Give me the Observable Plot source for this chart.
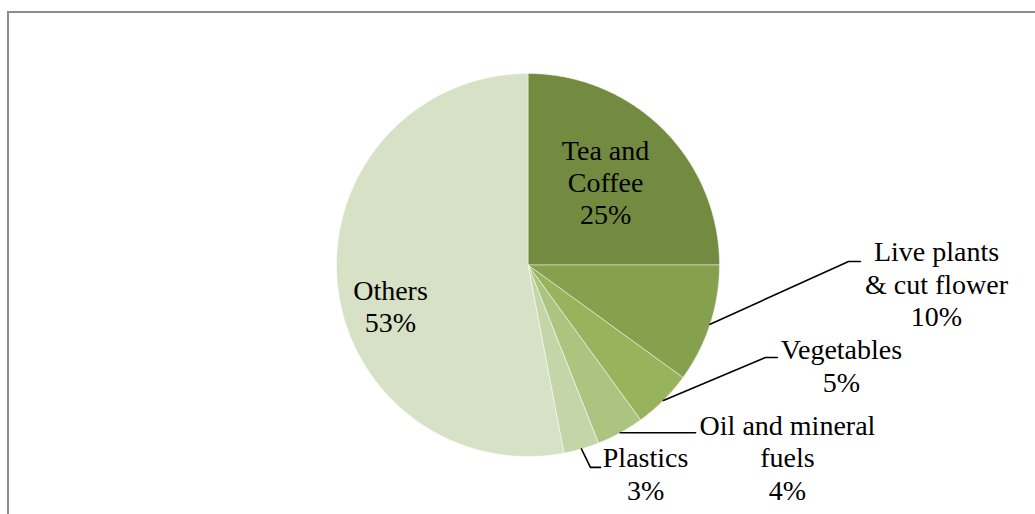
<!DOCTYPE html>
<html><head><meta charset="utf-8">
<script src="https://cdn.jsdelivr.net/npm/d3@7"></script>
<script src="https://cdn.jsdelivr.net/npm/@observablehq/plot@0.6"></script>
<style>
html,body{margin:0;padding:0;background:#fff;}
#wrap{position:relative;width:1035px;height:514px;overflow:hidden;}
#frame{position:absolute;left:7px;top:11px;width:1100px;height:600px;border:2px solid #8c8c8c;box-sizing:border-box;pointer-events:none;}
</style></head><body><div id="wrap"><div id="chart"></div><div id="frame"></div></div>
<script>
// ---- data ----
const categories = ["Tea and Coffee", "Live plants & cut flower", "Vegetables", "Oil and mineral fuels", "Plastics", "Others"];
const shares = [25, 10, 5, 4, 3, 53];
const labelNames = ["Tea and\nCoffee", "Live plants\n& cut flower", "Vegetables", "Oil and mineral\nfuels", "Plastics", "Others"];
const colors = ["#738b40", "#85a14d", "#97b45c", "#abc580", "#c4d6a8", "#d7e1c6"];

// ---- layout (unit circle coordinates, pie radius = 1, y up) ----
const labelPos = [
  {x: 0.405, y: 0.2115},
  {x: 2.133, y: -0.319},
  {x: 1.637, y: -0.661},
  {x: 1.355, y: -1.225},
  {x: 0.614, y: -1.225},
  {x: -0.718, y: -0.352}
];
// leader elbows: null = label inside slice
const leaders = [
  null,
  {ex: 1.674, ey: 0.018, end: 1.736},
  {ex: 1.240, ey: -0.483, end: 1.302},
  {ex: 0.80, ey: null, end: 0.875},
  {ex: 0.326, ey: -1.057, end: 0.379},
  null
];

const W = 1035, H = 514, cx = 527.5, cy = 264.5, R = 191.5;
const FONT = "Liberation Serif";

const total = d3.sum(shares);
let acc = 0;
const slices = categories.map((c, i) => {
  const a0 = acc / total * 2 * Math.PI;
  acc += shares[i];
  const a1 = acc / total * 2 * Math.PI;
  return {name: c, i, a0, a1, mid: (a0 + a1) / 2};
});

const polyPts = [];
for (const s of slices) {
  polyPts.push({name: s.name, i: s.i, x: 0, y: 0});
  const n = Math.max(2, Math.ceil((s.a1 - s.a0) / (Math.PI / 360)));
  for (let k = 0; k <= n; k++) {
    const a = s.a0 + (s.a1 - s.a0) * k / n;
    polyPts.push({name: s.name, i: s.i, x: Math.sin(a), y: Math.cos(a)});
  }
  polyPts.push({name: s.name, i: s.i, x: 0, y: 0});
}

const leaderPts = [];
slices.forEach((s, i) => {
  const L = leaders[i];
  if (!L) return;
  const px = Math.sin(s.mid), py = Math.cos(s.mid);
  const ey = L.ey == null ? py : L.ey;
  leaderPts.push({name: s.name, x: px, y: py});
  leaderPts.push({name: s.name, x: L.ex, y: ey});
  leaderPts.push({name: s.name, x: L.end, y: ey});
});

const labels = slices.map((s, i) => ({
  text: labelNames[i] + "\n" + shares[i] + "%",
  x: labelPos[i].x, y: labelPos[i].y
}));

const chart = Plot.plot({
  width: W, height: H,
  margin: 0,
  x: {domain: [-cx / R, (W - cx) / R], axis: null},
  y: {domain: [-(H - cy) / R, cy / R], axis: null},
  style: {fontFamily: FONT},
  marks: [
    Plot.line(polyPts, {x: "x", y: "y", z: "name", fill: d => colors[d.i], stroke: "#ffffff", strokeWidth: 0.6, strokeOpacity: 0.8, curve: "linear"}),
    Plot.line(leaderPts, {x: "x", y: "y", z: "name", stroke: "#000000", strokeWidth: 1.6}),
    Plot.text(labels, {x: "x", y: "y", text: "text", fontSize: 28, lineHeight: 1.16, lineAnchor: "bottom", textAnchor: "middle", fill: "#000000", fontFamily: FONT})
  ]
});
document.getElementById("chart").appendChild(chart);
</script>
</body></html>
